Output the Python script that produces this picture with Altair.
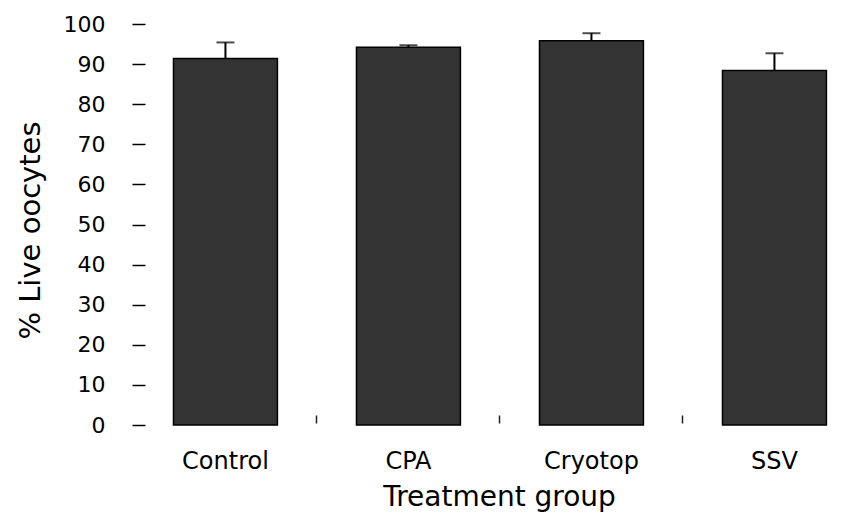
import altair as alt
import pandas as pd

categories = ["Control", "CPA", "Cryotop", "SSV"]
means = [91.4, 94.2, 95.8, 88.4]
upper = [95.4, 94.7, 97.7, 92.7]

df = pd.DataFrame({"group": categories, "mean": means, "upper": upper})

FONT = "DejaVu Sans"

xscale = alt.Scale(paddingInner=0.432, paddingOuter=0.0985, align=0.762)

bars = alt.Chart(df).mark_bar(
    color="#333333", stroke="#000000", strokeWidth=1.5
).encode(
    x=alt.X(
        "group:N", sort=categories, scale=xscale,
        axis=alt.Axis(
            title="Treatment group", labelAngle=0, ticks=False, tickSize=0,
            domain=False, labelPadding=24, labelFontSize=24, labelFont=FONT,
            labelColor="#000000", titleFontSize=28, titleFont=FONT,
            titleFontWeight="normal", titleColor="#000000",
            titleBaseline="alphabetic", titleY=80, titleX=353, titleAlign="center",
        ),
    ),
    y=alt.Y(
        "mean:Q", scale=alt.Scale(domain=[0, 100], nice=False),
        axis=alt.Axis(
            title="% Live oocytes", values=list(range(0, 101, 10)), domain=False,
            grid=False, offset=1, tickSize=13, tickWidth=1.5, tickColor="#000000",
            labelPadding=27, labelFontSize=22, labelFont=FONT, labelColor="#000000",
            titleFontSize=29, titleFont=FONT, titleFontWeight="normal",
            titleColor="#000000", titleX=-115, titleY=206, titleBaseline="middle",
            titleAlign="center", titleAngle=270,
        ),
    ),
)

stems = alt.Chart(df).mark_rule(color="#000000", strokeWidth=2).encode(
    x=alt.X(
        "group:N", sort=categories,
        axis=alt.Axis(
            title=None, labels=False, domain=False, ticks=True, tickSize=8,
            tickWidth=1.5, tickColor="#222222", offset=-10, bandPosition=1.38,
            orient="bottom", grid=False,
        ),
    ),
    y="mean:Q",
    y2="upper:Q",
)

caps = alt.Chart(df).mark_tick(color="#000000", thickness=2, size=18).encode(
    x=alt.X("group:N", sort=categories, axis=None),
    y="upper:Q",
)

chart = alt.layer(bars, stems, caps).resolve_axis(x="independent").properties(
    width=689,
    height=401,
    padding={"left": 138, "top": 16, "right": 10, "bottom": 87},
    autosize=alt.AutoSizeParams(type="none"),
    background="#ffffff",
).configure_view(stroke=None)

chart.save("out.html", embed_options={"renderer": "svg", "actions": False})
